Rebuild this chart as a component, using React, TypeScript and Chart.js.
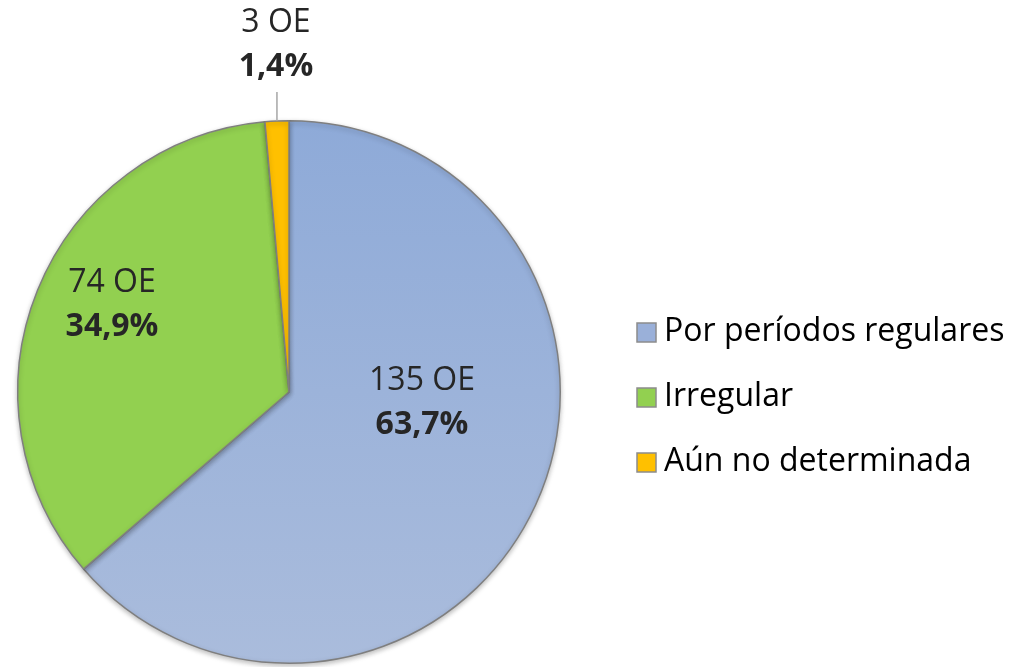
import React, { useEffect, useRef } from "react";
import { Chart, registerables } from "chart.js";

Chart.register(...registerables);

const categories = ["Por períodos regulares", "Irregular", "Aún no determinada"];
const counts = [135, 74, 3];
const percentLabels = ["63,7%", "34,9%", "1,4%"];
const countLabels = ["135 OE", "74 OE", "3 OE"];
const colors = ["#9ab0d9", "#92d050", "#ffc000"];

const FONT = "'Open Sans', Lato, sans-serif";

const labelsPlugin = {
  id: "sliceLabels",
  afterDatasetsDraw(chart: any) {
    const ctx = chart.ctx;
    const meta = chart.getDatasetMeta(0);
    ctx.save();
    meta.data.forEach((arc: any, i: number) => {
      const { x, y, startAngle, endAngle, outerRadius } = arc.getProps(
        ["x", "y", "startAngle", "endAngle", "outerRadius"],
        true
      );
      const mid = (startAngle + endAngle) / 2;
      let lx: number, ly: number;
      ctx.textAlign = "center";
      ctx.textBaseline = "middle";
      ctx.fillStyle = "#262626";
      if (endAngle - startAngle < 0.2) {
        const ax = x + Math.cos(mid) * outerRadius;
        const ay = y + Math.sin(mid) * outerRadius;
        ctx.strokeStyle = "#a6a6a6";
        ctx.lineWidth = 1.5;
        ctx.beginPath();
        ctx.moveTo(ax, ay);
        ctx.lineTo(ax, ay - 29);
        ctx.stroke();
        lx = ax - 1;
        ly = ay - 76;
      } else {
        const r = outerRadius * 0.5;
        lx = x + Math.cos(mid) * r;
        ly = y + Math.sin(mid) * r;
        if (i === 0) { lx = x + 133; ly = y + 11; }
        if (i === 1) { lx = x - 177; ly = y - 87; }
      }
      ctx.font = `32px ${FONT}`;
      ctx.fillText(countLabels[i], lx, ly - 22);
      ctx.font = `bold 32px ${FONT}`;
      ctx.fillText(percentLabels[i], lx, ly + 22);
    });
    ctx.restore();
  },
};

const legendPlugin = {
  id: "sideLegend",
  afterDraw(chart: any) {
    const ctx = chart.ctx;
    const ds = chart.data.datasets[0];
    ctx.save();
    chart.data.labels.forEach((label: string, i: number) => {
      const cy = 332 + i * 65;
      ctx.fillStyle = i === 0 ? "#9ab0d9" : ds.hoverBackgroundColor[i];
      ctx.fillRect(637, cy - 9, 19, 19);
      ctx.strokeStyle = "#8c8c8c";
      ctx.lineWidth = 1.5;
      ctx.strokeRect(637, cy - 9, 19, 19);
      ctx.fillStyle = "#000000";
      ctx.font = `32px ${FONT}`;
      ctx.textAlign = "left";
      ctx.textBaseline = "middle";
      ctx.fillText(label, 664, cy);
    });
    ctx.restore();
  },
};

const shadowPlugin = {
  id: "pieShadow",
  beforeDatasetsDraw(chart: any) {
    const ctx = chart.ctx;
    ctx.save();
    ctx.shadowColor = "rgba(0,0,0,0.25)";
    ctx.shadowBlur = 5;
    ctx.shadowOffsetY = 2;
  },
  afterDatasetsDraw(chart: any) {
    chart.ctx.restore();
  },
};

export default function App() {
  const ref = useRef<HTMLCanvasElement>(null);
  useEffect(() => {
    document.body.style.margin = "0";
    const chart = new Chart(ref.current!, {
      type: "pie",
      data: {
        labels: categories,
        datasets: [
          {
            data: counts,
            backgroundColor: (c: any) => {
              const area = c.chart.chartArea;
              if (c.dataIndex !== 0 || !area) return colors[c.dataIndex];
              const g = c.chart.ctx.createLinearGradient(0, area.top, 0, area.bottom);
              g.addColorStop(0, "#8eaad8");
              g.addColorStop(1, "#aabcdc");
              return g;
            },
            hoverBackgroundColor: colors,
            borderColor: "#7f7f7f",
            borderWidth: 1.5,
          },
        ],
      },
      options: {
        responsive: false,
        animation: false,
        layout: { padding: { top: 120, bottom: 3, left: 17, right: 454 } },
        plugins: { legend: { display: false }, tooltip: { enabled: false } },
      },
      plugins: [shadowPlugin, labelsPlugin, legendPlugin],
    });
    return () => chart.destroy();
  }, []);
  return (
    <div style={{ position: "absolute", left: 0, top: 0, width: 1015, height: 667, background: "#fff" }}>
      <canvas ref={ref} width={1015} height={667} />
    </div>
  );
}
